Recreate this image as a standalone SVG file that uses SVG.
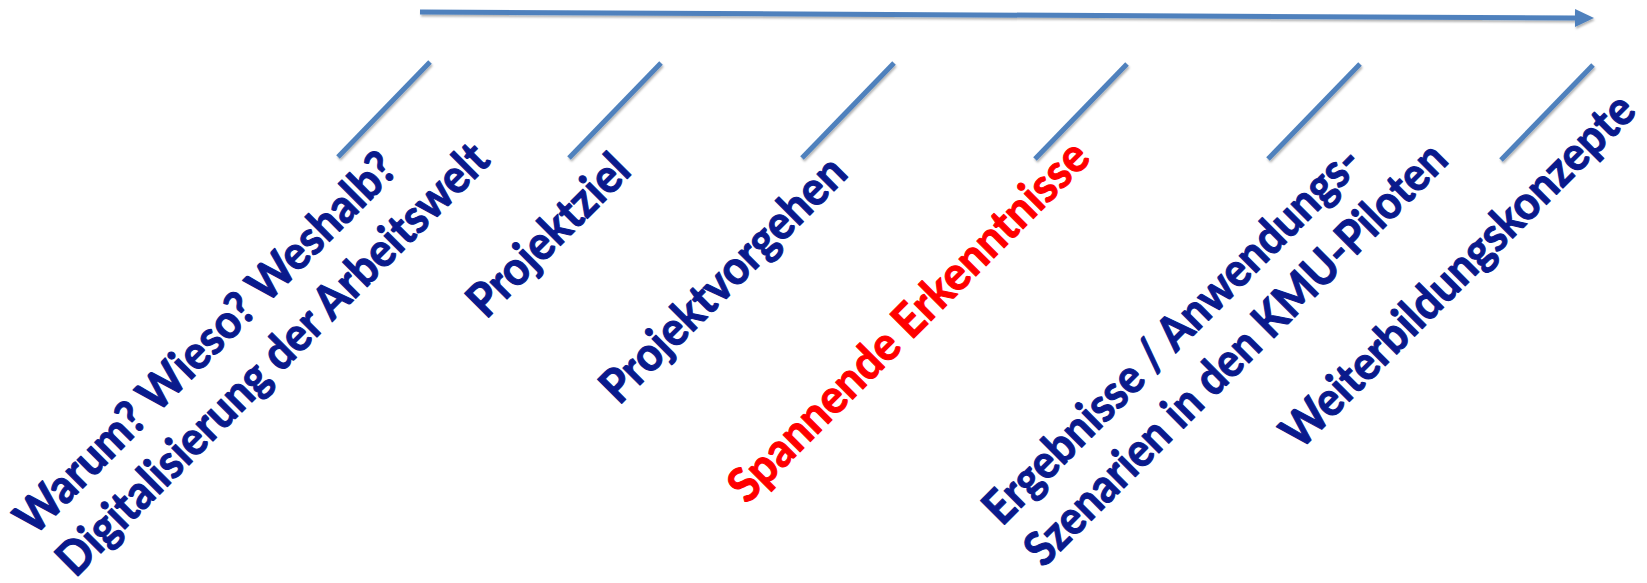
<svg xmlns="http://www.w3.org/2000/svg" width="1647" height="583" viewBox="0 0 1647 583">
  <style>
    .lbl { font-family: "Lato", "Open Sans", "Liberation Sans", sans-serif; font-weight: bold; font-size: 47px; fill: #0A1A8C; stroke: #0A1A8C; stroke-width: 1.1px; stroke-linejoin: round; }
    .red { fill: #FF0000; stroke: #FF0000; }
    .tick { stroke: #4F81BD; stroke-width: 5; fill: none; }
    .axis { stroke: #4F81BD; stroke-width: 5; fill: none; }
  </style>
  <defs>
    <filter id="sh" filterUnits="userSpaceOnUse" x="0" y="0" width="1647" height="583">
      <feDropShadow dx="1" dy="2" stdDeviation="1.2" flood-color="#000" flood-opacity="0.3"/>
    </filter>
    <marker id="ah" markerUnits="userSpaceOnUse" markerWidth="19" markerHeight="18" viewBox="0 0 19 18" refX="0" refY="9" orient="auto">
      <path d="M0,0 L19,9 L0,18 z" fill="#4F81BD"/>
    </marker>
  </defs>
  <rect width="1647" height="583" fill="#FFFFFF"/>

  <g id="connectors" filter="url(#sh)">
    <line class="axis" x1="420" y1="12" x2="1575" y2="18" marker-end="url(#ah)"/>
  </g>

  <g id="node1">
    <line class="tick" x1="430" y1="62" x2="338" y2="157" filter="url(#sh)"/>
    <text class="lbl" transform="translate(34,537) rotate(-45)" textLength="517" lengthAdjust="spacingAndGlyphs">Warum? Wieso? Weshalb?</text>
    <text class="lbl" transform="translate(75.5,578.5) rotate(-45)" textLength="589" lengthAdjust="spacingAndGlyphs">Digitalisierung der Arbeitswelt</text>
  </g>

  <g id="node2">
    <line class="tick" x1="661" y1="63" x2="569" y2="158" filter="url(#sh)"/>
    <text class="lbl" transform="translate(486,320) rotate(-45)" textLength="208" lengthAdjust="spacingAndGlyphs">Projektziel</text>
  </g>

  <g id="node3">
    <line class="tick" x1="894" y1="63" x2="802" y2="158" filter="url(#sh)"/>
    <text class="lbl" transform="translate(619,406) rotate(-45)" textLength="326" lengthAdjust="spacingAndGlyphs">Projektvorgehen</text>
  </g>

  <g id="node4">
    <line class="tick" x1="1127" y1="64" x2="1035" y2="159" filter="url(#sh)"/>
    <text class="lbl red" transform="translate(747,505) rotate(-45)" textLength="488" lengthAdjust="spacingAndGlyphs">Spannende Erkenntnisse</text>
  </g>

  <g id="node5">
    <line class="tick" x1="1360" y1="64" x2="1268" y2="159" filter="url(#sh)"/>
    <text class="lbl" transform="translate(1002,527) rotate(-45)" textLength="512" lengthAdjust="spacingAndGlyphs">Ergebnisse / Anwendungs-</text>
    <text class="lbl" transform="translate(1043.5,568.5) rotate(-45)" textLength="575" lengthAdjust="spacingAndGlyphs">Szenarien in den KMU-Piloten</text>
  </g>

  <g id="node6">
    <line class="tick" x1="1593" y1="65" x2="1501" y2="160" filter="url(#sh)"/>
    <text class="lbl" transform="translate(1300,451) rotate(-45)" textLength="478" lengthAdjust="spacingAndGlyphs">Weiterbildungskonzepte</text>
  </g>
</svg>
